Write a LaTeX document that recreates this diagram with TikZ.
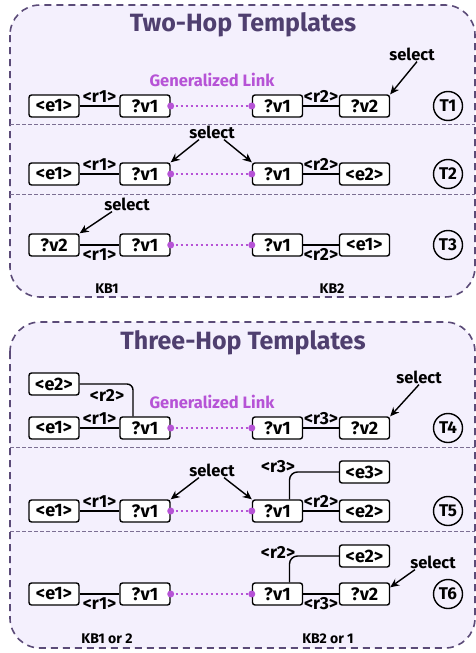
\documentclass[tikz,border=0pt]{standalone}
\usepackage{fontspec}
\setmainfont{Fira Sans}
\usetikzlibrary{arrows.meta}

\definecolor{panelfill}{HTML}{F4F0FD}
\definecolor{paneldraw}{HTML}{5B4B78}
\definecolor{titlecol}{HTML}{4F3F6F}
\definecolor{linkcol}{HTML}{B653D6}

\tikzset{
  panel/.style={draw=paneldraw, fill=panelfill, line width=1.6pt,
    dash pattern=on 7pt off 5pt, rounded corners=30pt},
  sepline/.style={draw=paneldraw!80, line width=0.7pt, dash pattern=on 3.5pt off 2.5pt},
  title/.style={text=titlecol, font=\fontsize{25}{25}\selectfont\bfseries},
  kbox/.style={draw, line width=1.4pt, rounded corners=2.5pt, fill=white,
    minimum width=50pt, minimum height=22pt, inner sep=0pt,
    font=\fontsize{18}{18}\selectfont\bfseries},
  rel/.style={font=\fontsize{17.5}{17.5}\selectfont\bfseries, inner sep=0pt},
  sel/.style={font=\fontsize{16.5}{16.5}\selectfont\bfseries, inner sep=1pt},
  kb/.style={font=\fontsize{14}{14}\selectfont\bfseries, inner sep=1pt},
  glabel/.style={text=linkcol, font=\fontsize{16.5}{16.5}\selectfont\bfseries},
  tag/.style={draw, circle, line width=1.4pt, minimum size=29pt, inner sep=0pt,
    font=\fontsize{17}{17}\selectfont\bfseries},
  edge/.style={line width=1.4pt},
  glink/.style={draw=linkcol, line width=2pt, dash pattern=on 2pt off 3pt},
  selarrow/.style={-{Stealth[length=9pt,width=8pt]}, line width=1.4pt},
  tick/.style={fill, minimum width=8pt, minimum height=2.5pt, inner sep=0pt}
}

\begin{document}
\begin{tikzpicture}[x=1pt, y=-1pt]
  \useasboundingbox (0,0) rectangle (476,653);

  % two-hop panel
  \draw[panel] (10,5) rectangle (475,297);
  \draw[sepline] (10,124) -- (475,124);
  \draw[sepline] (10,194) -- (475,194);
  \node[title] (twohop) at (243,25) {Two-Hop Templates};

  % T1
  \node[kbox] (t1e1) at (54,106) {<e1>};
  \node[kbox] (t1v1) at (145,106) {?v1};
  \node[kbox] (t1w1) at (277.5,106) {?v1};
  \node[kbox] (t1v2) at (364.5,106) {?v2};
  \draw[edge] (t1e1) -- node[rel, above=3pt] {<r1>} (t1v1);
  \draw[edge] (t1w1) -- node[tick] {} node[rel, above=3pt] {<r2>} (t1v2);
  \node[glabel] (t1glink) at (212,80) {Generalized Link};
  \node[sel] (t1sel) at (412,54) {select};
  \draw[selarrow] ([xshift=5pt]t1sel.south) -- (t1v2.north east);

  % T2
  \node[kbox] (t2e1) at (54,174) {<e1>};
  \node[kbox] (t2v1) at (145,174) {?v1};
  \node[kbox] (t2w1) at (277.5,174) {?v1};
  \node[kbox] (t2e2) at (364.5,174) {<e2>};
  \draw[edge] (t2e1) -- node[rel, above=3pt] {<r1>} (t2v1);
  \draw[edge] (t2w1) -- node[tick] {} node[rel, above=3pt] {<r2>} (t2e2);
  \node[sel] (t2sel) at (212,132) {select};
  \draw[selarrow] ([xshift=-13pt]t2sel.south) -- (t2v1.north east);
  \draw[selarrow] ([xshift=12pt]t2sel.south) -- (t2w1.north west);

  % T3
  \node[kbox] (t3v2) at (54,245) {?v2};
  \node[kbox] (t3v1) at (145,245) {?v1};
  \node[kbox] (t3w1) at (277.5,245) {?v1};
  \node[kbox] (t3e1) at (364.5,245) {<e1>};
  \draw[edge] (t3v2) -- node[rel, below=2.5pt] {<r1>} (t3v1);
  \draw[edge] (t3w1) -- node[tick] {} node[rel, below=2.5pt] {<r2>} (t3e1);
  \node[sel] (t3sel) at (127,204) {select};
  \draw[selarrow] ([xshift=-15pt]t3sel.south) -- (t3v2.north east);

  \node[kb] (kb1) at (107,289) {KB1};
  \node[kb] (kb2) at (332,289) {KB2};

  % three-hop panel
  \draw[panel] (10,322) rectangle (475,648);
  \draw[sepline] (10,447) -- (475,447);
  \draw[sepline] (10,531) -- (475,531);
  \node[title] (threehop) at (243,343) {Three-Hop Templates};

  % T4
  \node[kbox] (t4e2) at (54,384) {<e2>};
  \node[kbox] (t4e1) at (54,428) {<e1>};
  \node[kbox] (t4v1) at (145,428) {?v1};
  \node[kbox] (t4w1) at (277.5,428) {?v1};
  \node[kbox] (t4v2) at (364.5,428) {?v2};
  \draw[edge] (t4e1) -- node[rel, above=3pt] {<r1>} (t4v1);
  \draw[edge, rounded corners=6pt] (t4e2.east) -| ([xshift=-12pt]t4v1.north);
  \node[rel] (t4r2) at (107,395) {<r2>};
  \draw[edge] (t4w1) -- node[tick] {} node[rel, above=3pt] {<r3>} (t4v2);
  \node[glabel] (t4glink) at (212,402) {Generalized Link};
  \node[sel] (t4sel) at (419,377) {select};
  \draw[selarrow] (t4sel.south) -- (t4v2.north east);

  % T5
  \node[kbox] (t5e1) at (54,511) {<e1>};
  \node[kbox] (t5v1) at (145,511) {?v1};
  \node[kbox] (t5w1) at (277.5,511) {?v1};
  \node[kbox] (t5e2) at (364.5,511) {<e2>};
  \node[kbox] (t5e3) at (364.5,472) {<e3>};
  \draw[edge] (t5e1) -- node[rel, above=3pt] {<r1>} (t5v1);
  \draw[edge] (t5w1) -- node[tick] {} node[rel, above=3pt] {<r2>} (t5e2);
  \draw[edge, rounded corners=8pt] ([xshift=12pt]t5w1.north) |- (t5e3.west);
  \node[rel] (t5r3) at (278,467) {<r3>};
  \node[sel] (t5sel) at (212,470) {select};
  \draw[selarrow] ([xshift=-13pt]t5sel.south) -- (t5v1.north east);
  \draw[selarrow] ([xshift=12pt]t5sel.south) -- (t5w1.north west);

  % T6
  \node[kbox] (t6e1) at (54,594) {<e1>};
  \node[kbox] (t6v1) at (145,594) {?v1};
  \node[kbox] (t6w1) at (277.5,594) {?v1};
  \node[kbox] (t6v2) at (364.5,594) {?v2};
  \node[kbox] (t6e2) at (364.5,556) {<e2>};
  \draw[edge] (t6e1) -- node[rel, below=2.5pt] {<r1>} (t6v1);
  \draw[edge] (t6w1) -- node[tick] {} node[rel, below=2.5pt] {<r3>} (t6v2);
  \draw[edge, rounded corners=8pt] ([xshift=12pt]t6w1.north) |- (t6e2.west);
  \node[rel] (t6r2) at (278,552) {<r2>};
  \node[sel] (t6sel) at (433,562) {select};
  \draw[selarrow] ([xshift=-18pt]t6sel.south) -- ([yshift=-5pt]t6v2.north east);

  \node[kb] (kb12) at (107,639) {KB1 or 2};
  \node[kb] (kb21) at (328,639) {KB2 or 1};

  % generalized links
  \foreach \r in {1,...,6} {
    \draw[glink] (t\r v1.east) -- (t\r w1.west);
    \fill[linkcol] (t\r v1.east) circle (3.5pt);
    \fill[linkcol] (t\r w1.west) circle (3.5pt);
  }

  % template tags
  \foreach \t/\y in {1/106, 2/174, 3/245, 4/428, 5/511, 6/594}
    \node[tag] (tag\t) at (448,\y) {T\t};
\end{tikzpicture}
\end{document}
